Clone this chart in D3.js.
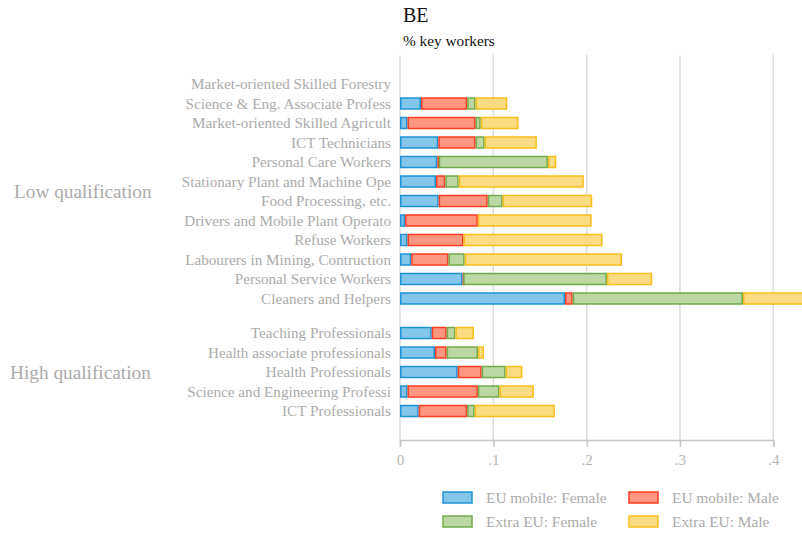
<!DOCTYPE html>
<html>
<head>
<meta charset="utf-8">
<script src="https://cdn.jsdelivr.net/npm/d3@7"></script>
<style>
  body { margin: 0; background: #fff; }
  svg { font-family: "Liberation Serif", "DejaVu Serif", serif; }
</style>
</head>
<body>
<svg id="chart"></svg>
<script>
// categories, top to bottom
var lowCats = ["Market-oriented Skilled Forestry", "Science & Eng. Associate Profess",
    "Market-oriented Skilled Agricult", "ICT Technicians", "Personal Care Workers",
    "Stationary Plant and Machine Ope", "Food Processing, etc.", "Drivers and Mobile Plant Operato",
    "Refuse Workers", "Labourers in Mining, Contruction", "Personal Service Workers",
    "Cleaners and Helpers"];
var highCats = ["Teaching Professionals", "Health associate professionals", "Health Professionals",
    "Science and Engineering Professi", "ICT Professionals"];

// shares, same order as lowCats then highCats
var euFemale = [0, 0.0225, 0.008, 0.041, 0.040, 0.0386, 0.0414, 0.0054, 0.008, 0.012, 0.067, 0.1768,
    0.034, 0.0375, 0.0618, 0.008, 0.020];
var euMale = [0, 0.0495, 0.073, 0.040, 0.0015, 0.010, 0.0526, 0.078, 0.060, 0.040, 0.0007, 0.0082,
    0.016, 0.0125, 0.0257, 0.0754, 0.052];
var extraFemale = [0, 0.009, 0.0055, 0.0097, 0.117, 0.0143, 0.016, 0, 0, 0.0173, 0.154, 0.1825,
    0.0093, 0.0336, 0.0257, 0.0232, 0.008];
var extraMale = [0, 0.034, 0.0405, 0.056, 0.009, 0.134, 0.096, 0.122, 0.149, 0.1686, 0.0486, 0.09,
    0.020, 0.0064, 0.018, 0.0368, 0.086];

var seriesNames = ["EU mobile: Female", "EU mobile: Male", "Extra EU: Female", "Extra EU: Male"];
var groupNames = ["Low qualification", "High qualification"];
var xTicks = [0, 0.1, 0.2, 0.3, 0.4];

var fills = ["#83c6e9", "#ff9682", "#bdd7a3", "#fcdc82"];
var strokes = ["#1e92d6", "#ff3e22", "#71ab4b", "#fbbd1b"];

var width = 802, height = 535;
var svg = d3.select("#chart").attr("width", width).attr("height", height);

// rows: low group slots 0..11, high group after a gap
var gap = 0.77;
var rows = [];
lowCats.forEach(function (c, i) { rows.push({ cat: c, slot: i, group: 0 }); });
highCats.forEach(function (c, j) { rows.push({ cat: c, slot: lowCats.length + gap + j, group: 1 }); });
rows.forEach(function (r, k) {
    var vals = [euFemale[k], euMale[k], extraFemale[k], extraMale[k]];
    var acc = 0;
    r.segs = vals.map(function (v, s) {
        var seg = { s: s, x0: acc, x1: acc + v };
        acc += v;
        return seg;
    });
});

var x = d3.scaleLinear().domain([0, 0.4]).range([400, 773.3]);
var y = d3.scaleLinear().domain([0, 1]).range([84, 103.5]);
var barH = 11;

// gridlines
svg.append("g").selectAll("line")
    .data(xTicks)
    .enter().append("line")
    .attr("x1", function (d) { return x(d); })
    .attr("x2", function (d) { return x(d); })
    .attr("y1", 55)
    .attr("y2", 440)
    .attr("stroke", "#dcdcdc")
    .attr("stroke-width", 1.5);

// bars
var rowG = svg.append("g").selectAll("g")
    .data(rows)
    .enter().append("g");
rowG.selectAll("rect")
    .data(function (d) { return d.segs.filter(function (s) { return s.x1 > s.x0; }); })
    .enter().append("rect")
    .attr("x", function (d) { return x(d.x0) + 0.75; })
    .attr("width", function (d) { return Math.max(0.5, x(d.x1) - x(d.x0) - 1.5); })
    .attr("y", function (d) { return y(d3.select(this.parentNode).datum().slot) - barH / 2; })
    .attr("height", barH)
    .attr("fill", function (d) { return fills[d.s]; })
    .attr("stroke", function (d) { return strokes[d.s]; })
    .attr("stroke-width", 1.5);

// category labels
svg.append("g").selectAll("text")
    .data(rows)
    .enter().append("text")
    .attr("x", 391)
    .attr("y", function (d) { return y(d.slot); })
    .attr("dy", "0.35em")
    .attr("text-anchor", "end")
    .attr("font-size", 15.2)
    .attr("fill", "#ababab")
    .text(function (d) { return d.cat; });

// group labels
var groupY = [d3.mean(rows.filter(function (r) { return r.group === 0; }), function (r) { return r.slot; }),
    d3.mean(rows.filter(function (r) { return r.group === 1; }), function (r) { return r.slot; })];
svg.append("g").selectAll("text")
    .data(groupNames)
    .enter().append("text")
    .attr("x", function (d, i) { return i === 0 ? 14 : 10; })
    .attr("y", function (d, i) { return y(groupY[i]); })
    .attr("dy", "0.35em")
    .attr("font-size", 19.3)
    .attr("fill", "#ababab")
    .text(function (d) { return d; });

// x axis
var xaxis = d3.axisBottom(x)
    .tickValues(xTicks)
    .tickSize(7)
    .tickPadding(7)
    .tickFormat(function (d) { return d === 0 ? "0" : d3.format(".1f")(d).replace(/^0/, ""); });
var ax = svg.append("g")
    .attr("transform", "translate(0,440)")
    .call(xaxis);
ax.select(".domain").attr("stroke", "#c4c4c4").attr("stroke-width", 1.5);
ax.selectAll(".tick line").attr("stroke", "#c4c4c4").attr("stroke-width", 1.5);
ax.selectAll(".tick text")
    .attr("fill", "#b4b4b4")
    .attr("font-size", 15)
    .attr("font-family", "Liberation Serif, serif");

// titles
svg.append("text")
    .attr("x", 403).attr("y", 22)
    .attr("font-size", 20)
    .attr("fill", "#111")
    .text("BE");
svg.append("text")
    .attr("x", 403).attr("y", 46)
    .attr("font-size", 15.3)
    .attr("fill", "#111")
    .text("% key workers");

// legend
var legend = svg.append("g").selectAll("g")
    .data(seriesNames)
    .enter().append("g")
    .attr("transform", function (d, i) {
        return "translate(" + (i % 2 === 0 ? 443 : 629) + "," + (i < 2 ? 492 : 516) + ")";
    });
legend.append("rect")
    .attr("width", 29)
    .attr("height", 11)
    .attr("fill", function (d, i) { return fills[i]; })
    .attr("stroke", function (d, i) { return strokes[i]; })
    .attr("stroke-width", 1.5);
legend.append("text")
    .attr("x", 43)
    .attr("y", 5.5)
    .attr("dy", "0.35em")
    .attr("font-size", 15.4)
    .attr("fill", "#ababab")
    .text(function (d) { return d; });
</script>
</body>
</html>
